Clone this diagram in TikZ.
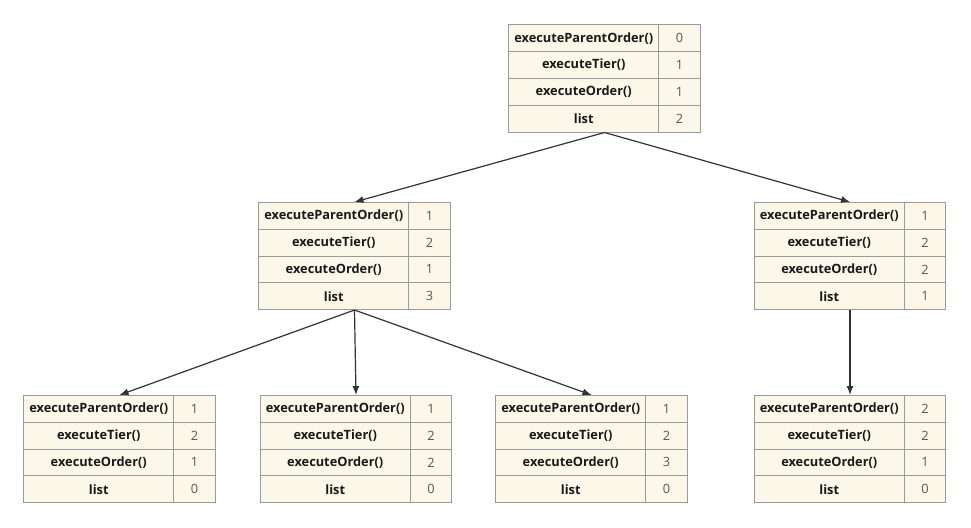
\documentclass[tikz,border=0pt]{standalone}
\usepackage{fontspec}
\setmainfont{Open Sans}
\usetikzlibrary{matrix,arrows.meta}
\definecolor{cellfill}{HTML}{FCF8E9}
\definecolor{cellline}{HTML}{9A9A9A}
\definecolor{numgray}{HTML}{555555}
\definecolor{arrowgray}{HTML}{333333}

\tikzset{
  ordtab/.style={matrix of nodes, inner sep=0pt, outer sep=0pt,
    column sep=-0.8pt, row sep=-0.8pt,
    nodes={draw=cellline, line width=0.8pt, fill=cellfill,
      minimum height=26.8pt, inner sep=0pt, anchor=center},
    column 1/.style={nodes={minimum width=150pt,
      font=\fontsize{12.8}{14}\selectfont\bfseries, text=black!90}},
    column 2/.style={nodes={minimum width=41.5pt,
      font=\fontsize{12.8}{14}\selectfont, text=numgray}}},
  link/.style={->, line width=1.2pt, draw=arrowgray},
}

\begin{document}
\begin{tikzpicture}[x=1pt, y=-1pt, >={Latex[length=9pt,width=7pt]}]
        \useasboundingbox (0,0) rectangle (971,527);

        % Radice
        \matrix[ordtab] (top) at (604.5,78.5) {
          executeParentOrder() & 0 \\
          executeTier()        & 1 \\
          executeOrder()       & 1 \\
          list                 & 2 \\
        };

        % Livello 1
        \matrix[ordtab] (midL) at (354.5,256) {
          executeParentOrder() & 1 \\
          executeTier()        & 2 \\
          executeOrder()       & 1 \\
          list                 & 3 \\
        };
        \matrix[ordtab] (midR) at (850,256) {
          executeParentOrder() & 1 \\
          executeTier()        & 2 \\
          executeOrder()       & 2 \\
          list                 & 1 \\
        };

        % Livello 2
        \matrix[ordtab] (botA) at (119.5,449) {
          executeParentOrder() & 1 \\
          executeTier()        & 2 \\
          executeOrder()       & 1 \\
          list                 & 0 \\
        };
        \matrix[ordtab] (botB) at (356,449) {
          executeParentOrder() & 1 \\
          executeTier()        & 2 \\
          executeOrder()       & 2 \\
          list                 & 0 \\
        };
        \matrix[ordtab] (botC) at (591.5,449) {
          executeParentOrder() & 1 \\
          executeTier()        & 2 \\
          executeOrder()       & 3 \\
          list                 & 0 \\
        };
        \matrix[ordtab] (botD) at (850,449) {
          executeParentOrder() & 2 \\
          executeTier()        & 2 \\
          executeOrder()       & 1 \\
          list                 & 0 \\
        };

        % Frecce
        \draw[link] (top.south) -- (midL.north);
        \draw[link] (top.south) -- (midR.north);
        \draw[link] (midL.south) -- (botA.north);
        \draw[link] (midL.south) -- (botB.north);
        \draw[link] (midL.south) -- (botC.north);
        \draw[link] (midR.south) -- (botD.north);

    \end{tikzpicture}
\end{document}
